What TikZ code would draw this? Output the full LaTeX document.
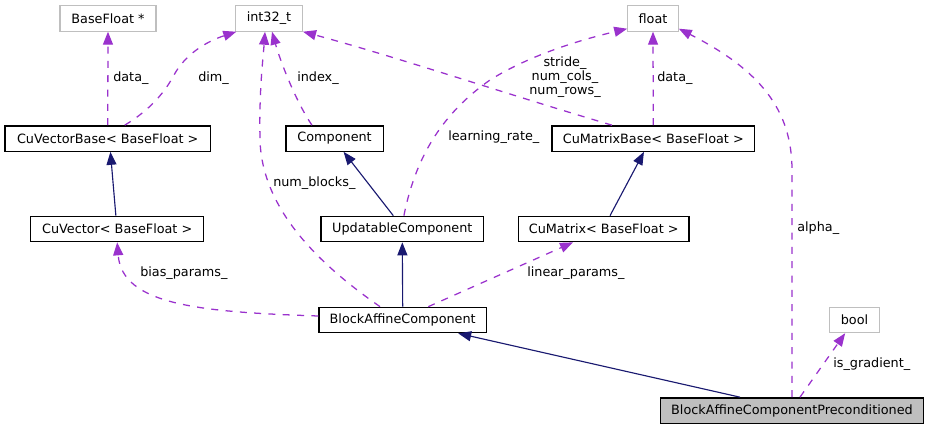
\documentclass[tikz,border=0pt]{standalone}
\usepackage{fontspec}
\setmainfont{DejaVu Sans}
\usetikzlibrary{arrows.meta}
\definecolor{depcol}{HTML}{9A32CD}
\definecolor{inhcol}{HTML}{191970}
\definecolor{gcol}{HTML}{BFBFBF}
\begin{document}
\begin{tikzpicture}[x=0.75pt,y=-0.75pt,
  box/.style={draw=black, line width=1pt, minimum height=19pt, inner sep=0pt, fill=white, font=\fontsize{9.6}{11}\selectfont},
  tbox/.style={box, draw=gcol, line width=0.8pt},
  hbox/.style={box, fill=gcol},
  lbl/.style={font=\fontsize{9.6}{11}\selectfont, inner sep=0pt, anchor=west},
  dep/.style={draw=depcol, line width=0.95pt, dash pattern=on 5.25pt off 5.5pt, -{Triangle[length=9.75pt,width=7.5pt]}},
  inh/.style={draw=inhcol, line width=0.85pt, -{Triangle[length=9.75pt,width=7.5pt]}}
]
\useasboundingbox (0,0) rectangle (929,429);
% nodes
\node[tbox, minimum width=72pt]    (bfp)   at (108,18.5)   {BaseFloat *};
\node[tbox, minimum width=50.25pt] (int)   at (269,18.5)   {int32\_t};
\node[tbox, minimum width=37.9pt]  (flt)   at (653,18.5)   {float};
\node[box,  minimum width=154.1pt] (cvb)   at (107.75,138.5) {CuVectorBase< BaseFloat >};
\node[box,  minimum width=73pt]    (comp)  at (334.6,138.5) {Component};
\node[box,  minimum width=152pt]   (cmb)   at (653.3,138.5) {CuMatrixBase< BaseFloat >};
\node[box,  minimum width=129.75pt] (cv)   at (117.2,229)  {CuVector< BaseFloat >};
\node[box,  minimum width=122pt]   (uc)    at (402.3,229)  {UpdatableComponent};
\node[box,  minimum width=128pt]   (cm)    at (603.7,229)  {CuMatrix< BaseFloat >};
\node[box,  minimum width=125.5pt] (bac)   at (402.7,320)  {BlockAffineComponent};
\node[tbox, minimum width=37.2pt]  (bool)  at (854.5,320)  {bool};
\node[hbox, minimum width=197pt]   (bacp)  at (792,410.5)  {BlockAffineComponentPreconditioned};

% dependency (member) edges
\draw[dep] (cvb.north) -- (bfp.south);
\node[lbl] (l1) at (113,78) {data\_};

\draw[dep] ([xshift=12.75pt]cvb.north) .. controls (150,110) and (165,92) .. (174,75)
  .. controls (185,55) and (205,42) .. ([xshift=1pt]int.south west);
\node[lbl] (l2) at (198,78) {dim\_};

\draw[dep] ([xshift=-17pt]comp.north) .. controls (295,100) and (280,60) .. ([xshift=2.25pt]int.south);
\node[lbl] (l3) at (297,78) {index\_};

\draw[dep] ([xshift=-17pt]bac.north) .. controls (320,265) and (262,210) .. (260,140)
  .. controls (259,90) and (263,60) .. ([xshift=-3pt]int.south);
\node[lbl] (l4) at (273,183) {num\_blocks\_};

\draw[dep] ([xshift=-31pt]cmb.north) .. controls (500,92) and (400,58) .. (int.south east);
\node[font=\fontsize{9.6}{11}\selectfont, align=center, inner sep=0pt] (l5) at (565,77.5) {stride\_\\[-0.5pt]num\_cols\_\\[-0.5pt]num\_rows\_};

\draw[dep] ([xshift=1.2pt]uc.north) .. controls (415,160) and (440,115) .. (490,80)
  .. controls (530,55) and (580,40) .. ([yshift=2.25pt]flt.south west);
\node[lbl] (l6) at (448,137) {learning\_rate\_};

\draw[dep] (cmb.north) -- (flt.south);
\node[lbl] (l7) at (657,78) {data\_};

\draw[dep] (bacp.north) -- (792,170) .. controls (792,110) and (760,70) .. ([yshift=2.25pt]flt.south east);
\node[lbl] (l8) at (797,228) {alpha\_};

\draw[dep] ([xshift=6pt]bacp.north) -- ([xshift=-7pt]bool.south);
\node[lbl] (l9) at (833,364) {is\_gradient\_};

\draw[dep] ([yshift=3pt]bac.west) .. controls (200,312) and (122,305) .. (cv.south);
\node[lbl] (l10) at (140,273) {bias\_params\_};

\draw[dep] ([xshift=19.2pt]bac.north) -- ([xshift=-23pt]cm.south);
\node[lbl] (l11) at (527,273) {linear\_params\_};

% inheritance edges
\draw[inh] ([xshift=-1pt]cv.north) -- ([xshift=2pt]cvb.south);
\draw[inh] ([xshift=-6.75pt]uc.north) -- ([xshift=6.75pt]comp.south);
\draw[inh] ([xshift=4.75pt]cm.north) -- ([xshift=-7pt]cmb.south);
\draw[inh] (bac.north) -- (uc.south);
\draw[inh] ([xshift=-39pt]bacp.north) -- ([xshift=41.6pt]bac.south);
\end{tikzpicture}
\end{document}
